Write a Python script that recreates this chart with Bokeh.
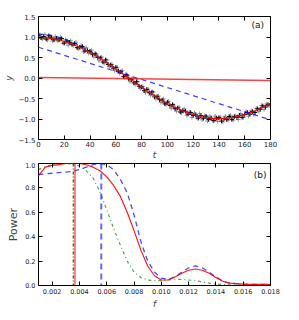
from bokeh.plotting import figure
from bokeh.models import FixedTicker, LinearAxis, Span, Label
from bokeh.layouts import column
from bokeh.embed import file_html
from bokeh.resources import INLINE

# ---------------- panel (a) data ----------------
t_black = list(range(0, 181, 2))
y_black = [1.03, 0.98, 1.01, 0.95, 1.03, 0.98, 0.93, 0.97, 0.93, 0.96,
           0.85, 0.90, 0.87, 0.82, 0.84, 0.74, 0.75, 0.77, 0.66, 0.67,
           0.65, 0.57, 0.59, 0.50, 0.49, 0.39, 0.44, 0.33, 0.32, 0.24,
           0.26, 0.17, 0.15, 0.04, 0.08, -0.02, -0.04, -0.12, -0.09, -0.20,
           -0.22, -0.31, -0.28, -0.36, -0.34, -0.46, -0.45, -0.53, -0.54, -0.63,
           -0.59, -0.67, -0.65, -0.75, -0.73, -0.83, -0.80, -0.81, -0.88, -0.84,
           -0.91, -0.90, -0.98, -0.92, -0.98, -0.93, -1.01, -0.98, -1.04, -0.98,
           -0.97, -1.05, -0.99, -1.01, -0.94, -1.01, -0.94, -0.96, -0.91, -0.96,
           -0.89, -0.84, -0.88, -0.82, -0.84, -0.75, -0.76, -0.68, -0.71, -0.65,
           -0.65]
t_grey = list(range(1, 180, 2))
y_grey = [1.06, 0.95, 1.06, 0.93, 1.01, 0.90, 1.01, 0.90, 0.99, 0.85,
          0.93, 0.80, 0.91, 0.79, 0.87, 0.71, 0.79, 0.64, 0.74, 0.60,
          0.68, 0.51, 0.58, 0.42, 0.51, 0.36, 0.44, 0.27, 0.33, 0.18,
          0.26, 0.11, 0.18, 0.01, 0.07, -0.09, -0.01, -0.16, -0.09, -0.26,
          -0.21, -0.36, -0.27, -0.42, -0.34, -0.51, -0.44, -0.60, -0.51, -0.65,
          -0.57, -0.74, -0.66, -0.81, -0.71, -0.85, -0.75, -0.91, -0.83, -0.96,
          -0.85, -0.98, -0.87, -1.02, -0.92, -1.05, -0.93, -1.03, -0.93, -1.06,
          -0.95, -1.07, -0.93, -1.04, -0.91, -1.03, -0.92, -1.01, -0.87, -0.96,
          -0.82, -0.93, -0.80, -0.89, -0.74, -0.82, -0.67, -0.77, -0.63, -0.68]

t_fit = list(range(0, 181, 5))
y_fit_red = [0.99, 0.985, 0.965, 0.935, 0.89, 0.84, 0.775, 0.70, 0.62, 0.53,
             0.43, 0.33, 0.22, 0.11, 0.0, -0.11, -0.22, -0.33, -0.43, -0.53,
             -0.62, -0.70, -0.775, -0.84, -0.89, -0.935, -0.965, -0.985, -0.99, -0.985,
             -0.965, -0.935, -0.89, -0.84, -0.775, -0.70, -0.62]
y_fit_blue = [1.07, 1.06, 1.04, 1.00, 0.95, 0.89, 0.82, 0.74, 0.65, 0.55,
              0.45, 0.34, 0.23, 0.11, 0.0, -0.12, -0.23, -0.34, -0.45, -0.55,
              -0.64, -0.72, -0.80, -0.86, -0.91, -0.95, -0.98, -1.0, -1.0, -0.99,
              -0.97, -0.93, -0.89, -0.83, -0.77, -0.70, -0.62]
y_fit_green = [0.98, 0.98, 0.96, 0.93, 0.89, 0.83, 0.77, 0.70, 0.62, 0.53,
               0.43, 0.33, 0.22, 0.11, 0.0, -0.11, -0.22, -0.33, -0.43, -0.53,
               -0.62, -0.70, -0.77, -0.84, -0.89, -0.93, -0.96, -0.98, -0.99, -0.98,
               -0.96, -0.93, -0.89, -0.84, -0.77, -0.70, -0.62]
t_flat = [0, 180]
y_flat_red = [0.01, -0.06]
y_slow_blue = [0.75, -1.02]

# ---------------- panel (b) data ----------------
f_grid = [0.0010, 0.0015, 0.0020, 0.0025, 0.0030, 0.0035, 0.0040, 0.0045, 0.0050,
          0.0055, 0.0060, 0.0065, 0.0070, 0.0075, 0.0080, 0.0085, 0.0090, 0.0095,
          0.0100, 0.0105, 0.0110, 0.0115, 0.0120, 0.0125, 0.0130, 0.0135, 0.0140,
          0.0145, 0.0150, 0.0155, 0.0160, 0.0165, 0.0170, 0.0175, 0.0180]
pow_red = [0.90, 0.97, 0.985, 0.99, 1.00, 1.00, 1.00, 0.99, 0.97,
           0.94, 0.89, 0.82, 0.73, 0.60, 0.45, 0.29, 0.16, 0.08,
           0.045, 0.045, 0.07, 0.10, 0.125, 0.135, 0.125, 0.10, 0.065,
           0.035, 0.02, 0.015, 0.012, 0.01, 0.01, 0.01, 0.01]
pow_blue = [0.91, 0.915, 0.92, 0.925, 0.93, 0.935, 0.95, 0.97, 0.99,
            1.00, 0.99, 0.95, 0.87, 0.76, 0.58, 0.36, 0.20, 0.11,
            0.06, 0.05, 0.07, 0.11, 0.145, 0.16, 0.145, 0.11, 0.07,
            0.035, 0.02, 0.015, 0.012, 0.01, 0.01, 0.01, 0.01]
pow_green = [0.95, 0.975, 0.99, 1.00, 1.00, 0.995, 0.98, 0.94, 0.88,
             0.77, 0.62, 0.47, 0.33, 0.20, 0.11, 0.065, 0.045, 0.04,
             0.04, 0.045, 0.05, 0.05, 0.045, 0.04, 0.03, 0.02, 0.012,
             0.008, 0.005, 0.005, 0.005, 0.005, 0.005, 0.005, 0.005]
f_peak_red = 0.00367
f_peak_green = 0.00355
f_peak_blue = 0.00560

xt_a = [0, 20, 40, 60, 80, 100, 120, 140, 160, 180]
yt_a = [-1.5, -1.0, -0.5, 0.0, 0.5, 1.0, 1.5]
xt_b = [0.002, 0.004, 0.006, 0.008, 0.010, 0.012, 0.014, 0.016, 0.018]
yt_b = [0.0, 0.2, 0.4, 0.6, 0.8, 1.0]

FONT = "DejaVu Sans"


def fmt(v, nd):
    s = f"{v:.{nd}f}"
    return s.replace("-", "\u2212")


def style(p, xt, yt, xnd, ynd, tick_size):
    p.outline_line_color = "black"
    p.outline_line_width = 1
    p.xgrid.visible = False
    p.ygrid.visible = False
    p.background_fill_color = "white"
    p.border_fill_color = "white"
    bx = p.below[0]
    ly = p.left[0]
    bx.ticker = FixedTicker(ticks=xt)
    bx.major_label_overrides = {v: fmt(v, xnd) for v in xt}
    ly.ticker = FixedTicker(ticks=yt)
    ly.major_label_overrides = {v: fmt(v, ynd) for v in yt}
    for ax in (bx, ly):
        ax.axis_line_color = None
        ax.major_tick_in = 4
        ax.major_tick_out = 0
        ax.minor_tick_line_color = None
        ax.major_label_text_font = FONT
        ax.major_label_text_font_size = tick_size
        ax.major_label_text_color = "#222222"
        ax.major_label_standoff = 3
        ax.axis_label_standoff = 2
    # mirrored axes (ticks only, no labels)
    top = LinearAxis(ticker=FixedTicker(ticks=xt),
                     major_label_overrides={v: "" for v in xt})
    right = LinearAxis(ticker=FixedTicker(ticks=yt),
                       major_label_overrides={v: "" for v in yt})
    for ax in (top, right):
        ax.axis_line_color = None
        ax.major_tick_in = 4
        ax.major_tick_out = 0
        ax.minor_tick_line_color = None
        ax.major_label_standoff = 0
    p.add_layout(top, "above")
    p.add_layout(right, "right")
    return bx, ly


# ---------------- panel (a) ----------------
p1 = figure(frame_width=232, frame_height=123, x_range=(0, 180), y_range=(-1.5, 1.5),
            output_backend="svg", toolbar_location=None,
            min_border_left=29, min_border_right=22, min_border_top=16, min_border_bottom=18)
bx1, ly1 = style(p1, xt_a, yt_a, 0, 1, "7px")
bx1.major_label_standoff = 1
bx1.axis_label_standoff = 0
bx1.axis_label = "t"
ly1.axis_label = "y"
for ax in (bx1, ly1):
    ax.axis_label_text_font = FONT
    ax.axis_label_text_font_style = "italic"
    ax.axis_label_text_font_size = "9px"

p1.scatter(t_grey, y_grey, marker="cross", size=4.5, line_color="#555555", line_alpha=0.6, line_width=1)
p1.scatter(t_black, y_black, marker="cross", size=4.5, line_color="black", line_width=1)
p1.line(t_fit, y_fit_green, line_color="#008000", line_width=1.2, line_dash="3 3 1 3")
p1.line(t_fit, y_fit_blue, line_color="#0000ff", line_width=1.2, line_alpha=0.75, line_dash="5 4")
p1.line(t_fit, y_fit_red, line_color="#ff0000", line_width=1.2, line_alpha=0.9)
p1.line(t_flat, y_flat_red, line_color="#ff0000", line_width=1.5, line_alpha=0.75)
p1.line(t_flat, y_slow_blue, line_color="#0000ff", line_width=1.2, line_alpha=0.75, line_dash="5 4")
p1.add_layout(Label(x=175, y=1.41, text="(a)", text_align="right", text_baseline="top",
                    text_font=FONT, text_font_size="9px", text_color="#111111"))

# ---------------- panel (b) ----------------
p2 = figure(frame_width=232, frame_height=122, x_range=(0.001, 0.018), y_range=(0.0, 1.0),
            output_backend="svg", toolbar_location=None,
            min_border_left=29, min_border_right=22, min_border_top=1, min_border_bottom=27)
bx2, ly2 = style(p2, xt_b, yt_b, 3, 1, "6.5px")
bx2.axis_label = "f"
ly2.axis_label = "Power"
bx2.axis_label_text_font = FONT
bx2.axis_label_text_font_style = "italic"
bx2.axis_label_text_font_size = "9px"
ly2.axis_label_text_font = FONT
ly2.axis_label_text_font_style = "normal"
ly2.axis_label_text_font_size = "11px"

p2.line(f_grid, pow_green, line_color="#008000", line_width=1.2, line_alpha=0.7, line_dash="3 3 1 3")
p2.line(f_grid, pow_blue, line_color="#0000ff", line_width=1.3, line_alpha=0.7, line_dash="5 4")
p2.line(f_grid, pow_red, line_color="#ff0000", line_width=1.2, line_alpha=0.9)
p2.add_layout(Span(location=f_peak_red, dimension="height", line_color="#ff0000",
                   line_alpha=0.5, line_width=2))
p2.add_layout(Span(location=f_peak_green, dimension="height", line_color="#006400",
                   line_width=1.2, line_dash="3 2 1 2"))
p2.add_layout(Span(location=f_peak_blue, dimension="height", line_color="#0000ff",
                   line_alpha=0.6, line_width=2, line_dash="6 4"))
p2.add_layout(Label(x=0.0177, y=0.95, text="(b)", text_align="right", text_baseline="top",
                    text_font=FONT, text_font_size="9px", text_color="#111111"))

layout = column(p1, p2, spacing=0)
open("out.html", "w").write(file_html(layout, INLINE))
